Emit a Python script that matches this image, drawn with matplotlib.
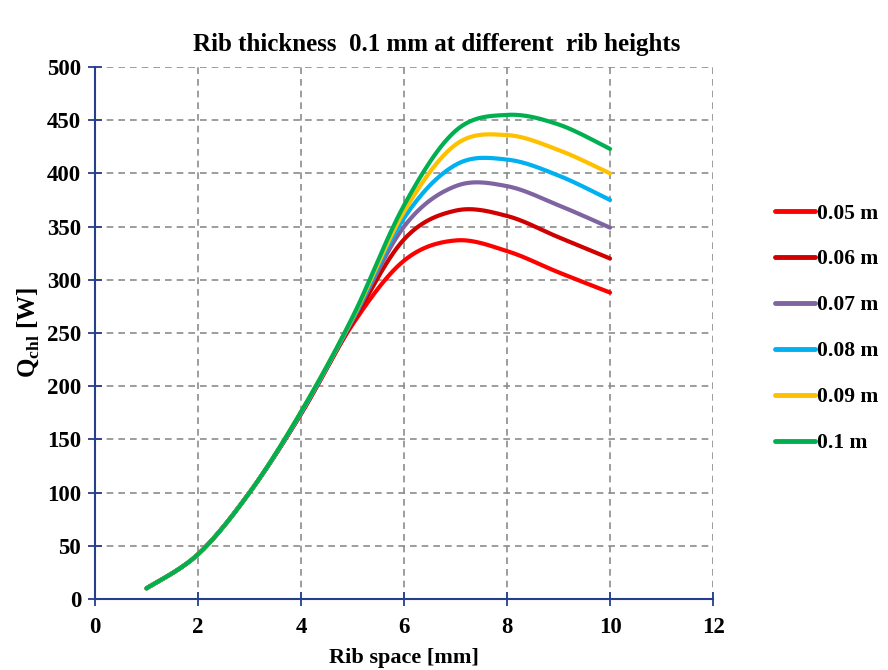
import matplotlib
matplotlib.use("Agg")
import matplotlib.pyplot as plt
import numpy as np

plt.rcParams["font.family"] = ["Liberation Serif", "DejaVu Serif"]
plt.rcParams["font.weight"] = "bold"
plt.rcParams["mathtext.fontset"] = "custom"
plt.rcParams["mathtext.rm"] = "Liberation Serif:bold"
plt.rcParams["mathtext.bf"] = "Liberation Serif:bold"

# data
rib_space = [1, 2, 3, 4, 5, 6, 7, 8, 9, 10]
h005 = [10, 42, 100, 174, 258, 318, 337, 327, 307, 288]
h006 = [10, 42, 100, 174, 260, 338, 365, 360, 340, 320]
h007 = [10, 42, 100, 175, 262, 350, 388, 388, 370, 349]
h008 = [10, 42, 100, 175, 263, 358, 408, 413, 398, 375]
h009 = [10, 42, 100, 176, 264, 364, 427, 436, 422, 400]
h010 = [10, 42, 100, 176, 265, 370, 440, 455, 446, 423]
labels = ["0.05 m", "0.06 m", "0.07 m", "0.08 m", "0.09 m", "0.1 m"]
colors = ["#FF0000", "#D00000", "#8064A2", "#00B0F0", "#FFC000", "#00B050"]

AXIS_BLUE = "#253F8E"


def smooth(xs, ys, n=30):
    """Excel-like smoothed line (Catmull-Rom / cubic Bezier)."""
    p = np.column_stack([xs, ys]).astype(float)
    p = np.vstack([p[0], p, p[-1]])
    out = []
    t = np.linspace(0, 1, n)[:, None]
    for i in range(1, len(p) - 2):
        p0, p1, p2, p3 = p[i - 1], p[i], p[i + 1], p[i + 2]
        c1 = p1 + (p2 - p0) / 6
        c2 = p2 - (p3 - p1) / 6
        seg = ((1 - t) ** 3) * p1 + 3 * ((1 - t) ** 2) * t * c1 + 3 * (1 - t) * t ** 2 * c2 + t ** 3 * p2
        out.append(seg if i == 1 else seg[1:])
    out = np.vstack(out)
    return out[:, 0], out[:, 1]


fig = plt.figure(figsize=(8.88, 6.7), dpi=100)
ax = fig.add_axes([0.107, 0.106, 0.696, 0.794])

for ys, lab, c in zip([h005, h006, h007, h008, h009, h010], labels, colors):
    sx, sy = smooth(rib_space, ys)
    ax.plot(sx, sy, color=c, lw=3.0, label=lab, solid_capstyle="round", zorder=3)

ax.set_xlim(0, 12)
ax.set_ylim(0, 500)
ax.set_xticks(np.arange(0, 13, 2))
ax.set_yticks(np.arange(0, 501, 50))
ax.grid(True, color="#8C8C8C", linestyle=(0, (4, 3)), linewidth=1.2, zorder=0)
for s in ["top", "right"]:
    ax.spines[s].set_visible(False)
for s in ["left", "bottom"]:
    ax.spines[s].set_color(AXIS_BLUE)
    ax.spines[s].set_linewidth(1.5)
ax.tick_params(direction="inout", length=10, width=1.3, color=AXIS_BLUE,
               labelsize=16.5, pad=5)
ax.tick_params(axis="x", pad=8)
for t in ax.get_xticklabels() + ax.get_yticklabels():
    t.set_fontweight("bold")

ax.set_xlabel("Rib space [mm]", fontsize=16, fontweight="bold", labelpad=7)
ax.set_ylabel(r"Q$_{\mathregular{chl}}$ [W]", fontsize=18, fontweight="bold", labelpad=4)
fig.text(0.492, 0.934, "Rib thickness  0.1 mm at different  rib heights",
         fontsize=18, fontweight="bold", ha="center", va="center")

leg = fig.legend(loc="center left", bbox_to_anchor=(0.873, 0.51), frameon=False,
                 fontsize=15.5, handlelength=1.85, handletextpad=0.1, labelspacing=1.2,
                 borderaxespad=0, borderpad=0)
for line in leg.get_lines():
    line.set_linewidth(3.5)

fig.savefig("out.png", dpi=100)
